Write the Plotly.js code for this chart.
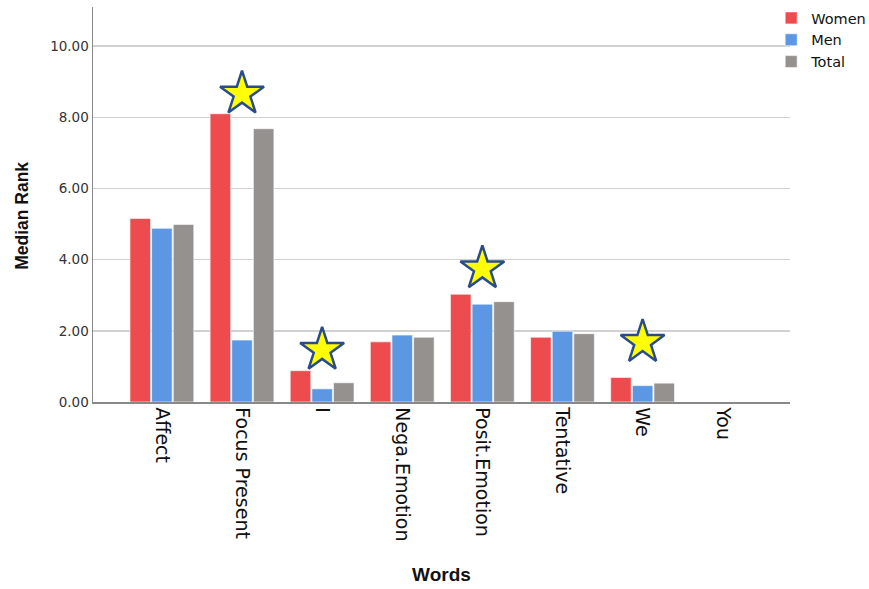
<!DOCTYPE html>
<html><head><meta charset="utf-8">
<script src="https://cdn.plot.ly/plotly-3.0.1.min.js"></script>
<style>html,body{margin:0;padding:0;background:#fff}#chart{width:869px;height:589px}</style>
</head><body><div id="chart"></div>
<script>
const categories = ["Affect","Focus Present","I","Nega.Emotion","Posit.Emotion","Tentative","We","You"];
const women = [5.16, 8.10, 0.88, 1.69, 3.03, 1.82, 0.69, 0];
const men   = [4.88, 1.74, 0.37, 1.88, 2.75, 1.99, 0.46, 0];
const total = [4.99, 7.68, 0.54, 1.82, 2.82, 1.92, 0.53, 0];
const starCats = ["Focus Present","I","Posit.Emotion","We"];
const starY = [8.66, 1.46, 3.75, 1.68];

const tickFont = {family:"DejaVu Sans, sans-serif", size:13.5, color:"#333"};
const bar = (name, y, color) => ({
  type:"bar", name:name, x:categories, y:y,
  marker:{color:color, line:{color:"rgba(255,255,255,0.6)", width:1}},
  hoverinfo:"skip"
});
const data = [
  bar("Women", women, "#EE4B4E"),
  bar("Men", men, "#5B97E3"),
  bar("Total", total, "#95918F"),
  {type:"scatter", mode:"markers", x:starCats, y:starY, showlegend:false,
   marker:{symbol:"star", size:33, color:"#FFFF00", line:{color:"#2B4C8C", width:2.5}}, cliponaxis:false}
];
const layout = {
  width:869, height:589,
  margin:{l:93, r:79, t:7, b:187, autoexpand:false},
  paper_bgcolor:"#fff", plot_bgcolor:"#fff",
  barmode:"group", bargap:0.19, bargroupgap:0.05,
  xaxis:{
    type:"category", range:[-0.86, 7.84],
    tickangle:90, tickfont:{family:"DejaVu Sans, sans-serif", size:19, color:"#111"},
    showline:true, linecolor:"#888", linewidth:1.5, ticks:"", showgrid:false,
    title:{text:"<b>Words</b>", font:{family:"Liberation Sans, Arial, sans-serif", size:19, color:"#111"}, standoff:27}
  },
  yaxis:{
    range:[0, 11.1], tickvals:[0,2,4,6,8,10], tickformat:".2f",
    tickfont:tickFont, showline:true, linecolor:"#888", linewidth:1.5,
    showgrid:true, gridcolor:"#d0d0d0", gridwidth:1.5, zeroline:false, ticks:"", ticklen:0
  },
  annotations:[{text:"<b>Median Rank</b>", xref:"paper", yref:"paper", x:-0.102, y:0.471,
    xanchor:"center", yanchor:"middle", textangle:-90, showarrow:false,
    font:{family:"Liberation Sans, Arial, sans-serif", size:17.5, color:"#111"}}],
  legend:{x:0.973, xanchor:"left", y:1.0127, yanchor:"top", font:{family:"DejaVu Sans, sans-serif", size:14.5, color:"#111"},
    tracegroupgap:0, itemwidth:30, bgcolor:"rgba(0,0,0,0)"},
  showlegend:true
};
Plotly.newPlot("chart", data, layout, {displayModeBar:false, staticPlot:true});
</script></body></html>
